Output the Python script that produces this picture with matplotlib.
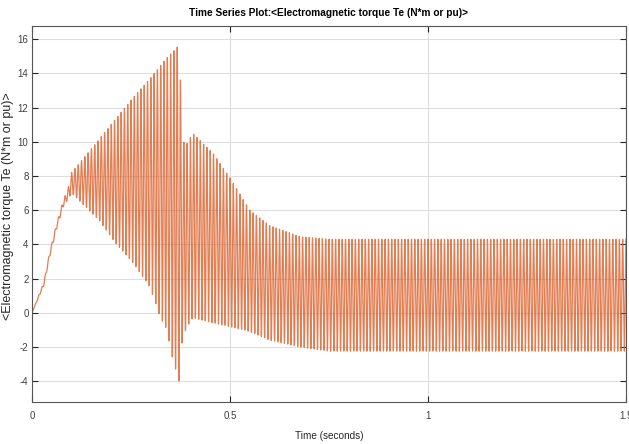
import numpy as np
import matplotlib
matplotlib.use("Agg")
import matplotlib.pyplot as plt

# envelope of the torque trace (time s, torque N*m)
t_env = [0.0, 0.03, 0.045, 0.062, 0.079, 0.09, 0.10, 0.17, 0.21, 0.256,
         0.298, 0.323, 0.34, 0.357, 0.365, 0.372, 0.38, 0.392, 0.406,
         0.458, 0.498, 0.55, 0.60, 0.677, 0.75, 1.5]
upper_env = [0.0, 1.8, 3.6, 5.2, 6.6, 7.2, 8.2, 10.15, 11.3, 12.6,
             13.7, 14.4, 14.9, 15.3, 15.5, 15.7, 10.0, 9.9, 10.5,
             9.3, 7.95, 6.0, 5.1, 4.45, 4.3, 4.3]
lower_env = [0.0, 1.6, 3.3, 4.9, 6.2, 6.6, 7.0, 5.4, 4.1, 2.9,
             1.5, -0.2, -1.0, -2.9, -3.5, -4.1, -1.5, -0.8, -0.3,
             -0.6, -0.8, -1.1, -1.6, -2.0, -2.25, -2.25]
ripple_hz = 120.0
sample_step = 2e-4

x_ticks = [0, 0.5, 1, 1.5]
x_ticklabels = ["0", "0.5", "1", "1.5"]
y_ticks = list(range(-4, 17, 2))

plt.rcParams["axes.unicode_minus"] = False
sans = ["Liberation Sans", "DejaVu Sans"]

t = np.arange(0, 1.5 + sample_step, sample_step)
up = np.interp(t, t_env, upper_env)
lo = np.interp(t, t_env, lower_env)
te = (up + lo) / 2 + (up - lo) / 2 * np.cos(2 * np.pi * ripple_hz * t)

fig = plt.figure(figsize=(6.29, 4.44), dpi=100)
ax = fig.add_axes([0.0509, 0.0939, 0.9443, 0.8475])

ax.plot(t, te, color="#D95319", lw=0.9, alpha=0.75)

ax.set_xlim(0, 1.5)
ax.set_ylim(-5.24, 16.77)
ax.set_xticks(x_ticks)
ax.set_xticklabels(x_ticklabels)
ax.set_yticks(y_ticks)
ax.grid(True, color="#dedede", lw=0.8)
ax.set_axisbelow(True)
ax.tick_params(direction="in", length=4, width=0.8, top=True, right=True,
               labelsize=7, colors="#262626", labelcolor="#404040")
ax.tick_params(axis="y", pad=2.5)
ax.tick_params(axis="x", pad=6)
for lab in ax.get_xticklabels() + ax.get_yticklabels():
    lab.set_family(sans)
for side in ax.spines.values():
    side.set_color("#555555")
    side.set_linewidth(0.8)

ax.set_title("Time Series Plot:<Electromagnetic torque Te (N*m or pu)>",
             family=sans, fontsize=7.3, fontweight="bold", pad=7)
ax.set_xlabel("Time (seconds)", family=sans, fontsize=7.2, color="#262626")
ax.xaxis.set_label_coords(0.50, -0.075)
ax.set_ylabel("<Electromagnetic torque Te (N*m or pu)>",
              family=sans, fontsize=9, color="#262626")
ax.yaxis.set_label_coords(-0.03, 0.52)

fig.savefig("out.png", dpi=100)
